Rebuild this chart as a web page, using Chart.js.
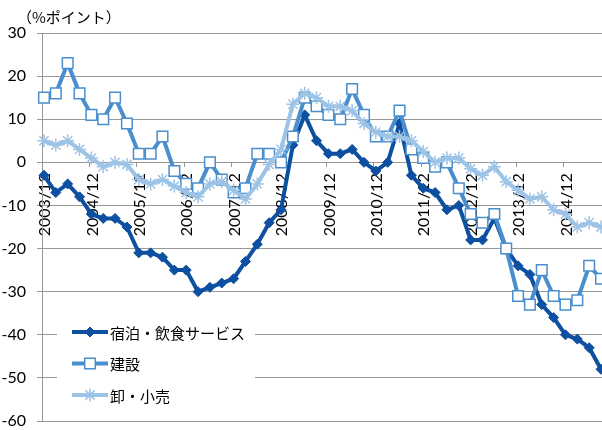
<!DOCTYPE html>
<html>
<head>
<meta charset="utf-8">
<script src="https://cdn.jsdelivr.net/npm/chart.js@4.4.1/dist/chart.umd.min.js"></script>
<style>
  html, body { margin: 0; padding: 0; background: #fff; overflow: hidden; }
  #wrap { width: 612px; height: 430px; }
</style>
</head>
<body>
<div id="wrap"><canvas id="chart" width="612" height="430"></canvas></div>
<script>
// 四半期ごとのデータ（2003/12〜2015/9）
const quarters = [
  '2003/12','2004/3','2004/6','2004/9','2004/12','2005/3','2005/6','2005/9',
  '2005/12','2006/3','2006/6','2006/9','2006/12','2007/3','2007/6','2007/9',
  '2007/12','2008/3','2008/6','2008/9','2008/12','2009/3','2009/6','2009/9',
  '2009/12','2010/3','2010/6','2010/9','2010/12','2011/3','2011/6','2011/9',
  '2011/12','2012/3','2012/6','2012/9','2012/12','2013/3','2013/6','2013/9',
  '2013/12','2014/3','2014/6','2014/9','2014/12','2015/3','2015/6','2015/9'
];
const yearTicks = quarters.filter(q => q.endsWith('/12'));

const hotel = [
  -3, -7, -5, -8, -12, -13, -13, -15,
  -21, -21, -22, -25, -25, -30, -29, -28,
  -27, -23, -19, -14, -11, 4, 11, 5,
  2, 2, 3, 0, -2, 0, 9, -3,
  -6, -7, -11, -10, -18, -18, -13, -20,
  -24, -26, -33, -36, -40, -41, -43, -48
];
const construction = [
  15, 16, 23, 16, 11, 10, 15, 9,
  2, 2, 6, -2, -5, -6, 0, -4,
  -7, -6, 2, 2, 0, 6, 15, 13,
  11, 10, 17, 11, 6, 6, 12, 3,
  1, -1, 0, -6, -12, -14, -12, -20,
  -31, -33, -25, -31, -33, -32, -24, -27
];
const retail = [
  5, 4, 5, 3, 1, -1, 0, -0.5,
  -4, -5, -4, -5.5, -7, -8, -5, -4.5,
  -6.5, -8.5, -5, -0.5, 3, 13.5, 16, 15,
  13, 13, 12, 9, 7, 6, 6, 5,
  2.5, 0, 1, 1, -1.5, -3, -1, -4.5,
  -6.5, -8.5, -8, -11, -12, -15, -14, -15
];
const seriesNames = ['宿泊・飲食サービス', '建設', '卸・小売'];

// 2003/12 からの月数
function monthIndex(q) {
  const [y, m] = q.split('/').map(Number);
  return (y - 2003) * 12 + m - 12;
}
function toPoints(values) {
  return values.map((v, i) => ({ x: monthIndex(quarters[i]), y: v }));
}

const fontFamily = 'Lato, "Noto Sans CJK JP", sans-serif';
const gridColor = '#989898';

// 凡例と単位ラベル
const extras = {
  id: 'extras',
  afterDatasetsDraw(chart) {
    const ctx = chart.ctx;
    const area = chart.chartArea;
    const left = area.left + 15;
    const top = area.bottom - 108;
    ctx.save();
    ctx.fillStyle = '#fff';
    ctx.fillRect(left, top, 198, 98);
    chart.data.datasets.forEach((ds, i) => {
      const y = top + 19 + i * 31.5;
      ctx.strokeStyle = ds.borderColor;
      ctx.lineWidth = ds.borderWidth;
      ctx.beginPath();
      ctx.moveTo(left + 15, y);
      ctx.lineTo(left + 51, y);
      ctx.stroke();
      ctx.fillStyle = ds.pointBackgroundColor;
      ctx.strokeStyle = ds.pointBorderColor;
      ctx.lineWidth = ds.pointBorderWidth;
      Chart.helpers.drawPoint(ctx, {
        pointStyle: ds.pointStyle, radius: ds.pointRadius,
        borderWidth: ds.pointBorderWidth, rotation: 0
      }, left + 33, y);
      ctx.fillStyle = '#000';
      ctx.font = '15px "Noto Sans CJK JP"';
      ctx.textBaseline = 'middle';
      ctx.fillText(ds.label, left + 53, y + 1);
    });
    ctx.font = '15px "Noto Sans CJK JP"';
    ctx.fillStyle = '#000';
    ctx.textBaseline = 'middle';
    ctx.fillText('（%ポイント）', 17, 17);
    ctx.restore();
  }
};

new Chart(document.getElementById('chart'), {
  type: 'line',
  data: {
    datasets: [
      {
        label: seriesNames[0],
        data: toPoints(hotel),
        borderColor: '#0D4FA0',
        borderWidth: 4,
        pointStyle: 'rectRot',
        pointRadius: 5,
        pointBackgroundColor: '#0D4FA0',
        pointBorderColor: '#0D4FA0',
        pointBorderWidth: 1,
        clip: false,
        order: 3
      },
      {
        label: seriesNames[1],
        data: toPoints(construction),
        borderColor: '#4A8ECD',
        borderWidth: 4,
        pointStyle: 'rect',
        pointRadius: 7.5,
        pointBackgroundColor: '#fff',
        pointBorderColor: '#4A8ECD',
        pointBorderWidth: 1.5,
        clip: false,
        order: 2
      },
      {
        label: seriesNames[2],
        data: toPoints(retail),
        borderColor: '#9DC3E6',
        borderWidth: 4,
        pointStyle: 'star',
        pointRadius: 6.5,
        pointBackgroundColor: '#9DC3E6',
        pointBorderColor: '#9DC3E6',
        pointBorderWidth: 1.5,
        clip: false,
        order: 1
      }
    ]
  },
  options: {
    responsive: false,
    animation: false,
    layout: { padding: { top: 33, right: 6, bottom: 9, left: 0 } },
    plugins: { legend: { display: false }, tooltip: { enabled: false } },
    elements: { line: { tension: 0 } },
    scales: {
      x: {
        type: 'linear',
        position: { y: 0 },
        min: -0.5,
        max: 141.5,
        afterBuildTicks: s => { s.ticks = yearTicks.map(q => ({ value: monthIndex(q) - 0.5 })); },
        ticks: {
          autoSkip: false,
          minRotation: 90,
          maxRotation: 90,
          padding: 7,
          labelOffset: 3,
          color: '#000',
          font: { family: fontFamily, size: 16 },
          callback: (v, i) => yearTicks[i]
        },
        grid: { drawOnChartArea: false, tickLength: 4, color: gridColor },
        border: { color: gridColor, width: 1 }
      },
      y: {
        min: -60,
        max: 30,
        afterFit: s => { s.width = 42; s.paddingTop = 0; s.paddingBottom = 0; },
        ticks: {
          stepSize: 10,
          padding: 11,
          color: '#000',
          font: { family: fontFamily, size: 16 }
        },
        grid: { color: gridColor, tickLength: 5 },
        border: { color: gridColor, width: 1 }
      }
    }
  },
  plugins: [extras]
});
</script>
</body>
</html>
